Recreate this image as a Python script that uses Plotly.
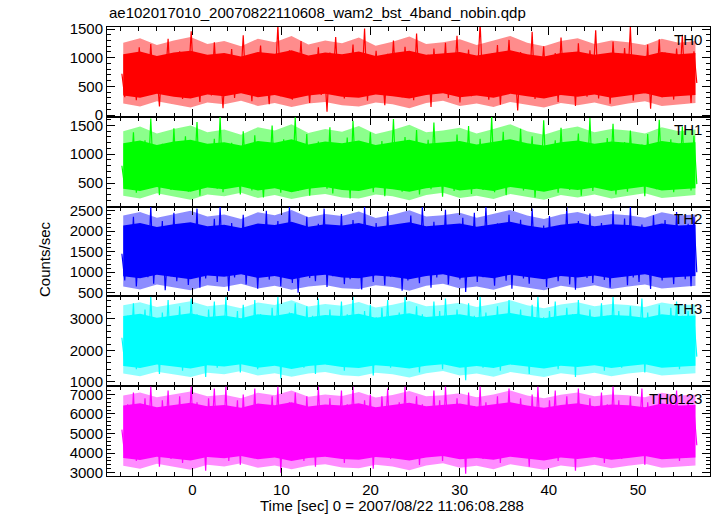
import numpy as np
import plotly.graph_objects as go
from plotly.subplots import make_subplots

# ---- data ----
t_start, t_end = -7.9, 56.6
band_names = ["TH0", "TH1", "TH2", "TH3", "TH0123"]
colors = ["#ff0000", "#00ff00", "#0000ff", "#00ffff", "#ff00ff"]
fringe_colors = ["rgba(255,0,0,0.45)", "rgba(0,255,0,0.45)", "rgba(0,0,255,0.45)",
                 "rgba(0,255,255,0.45)", "rgba(255,0,255,0.45)"]

th0 = [720,310,1050,420,890,260,1180,540,960,380,
       1240,470,820,150,1010,590,1330,360,870,500,
       1110,280,940,610,1460,400,780,230,1060,520,
       910,340,1270,450,830,120,990,560,1150,300,
       880,480,1390,370,950,240,1080,600,1210,420,
       760,190,1020,510,1570,330,900,460,1130,270,
       970,580,1290,390,840,210,1040,490,1180,350,
       920,60,1090,530,1360,410,800,290,1000,570,
       1230,320,870,440,1510,250,960,550,1120,380,
       850,170,1070,500,1300,430,930,310,1190,590,
       980,260,1420,460,860,350,1050,140,1160,520,
       790,400,1260,300,1010,560,1380,220,900,480,
       1140,330,950,610,1600,370,820,270,1070,450,
       1220,180,990,540,1310,410,880,80,1100,500,
       940,360,1450,280,860,580,1200,340,970,430,
       1080,230,1350,510,810,390,1030,160,1250,470,
       920,320,1130,560,1480,290,890,420,1060,200,
       1280,530,960,350,1170,450,1540,250,870,600,
       1000,380,1230,110,940,490,1320,310,1090,440,
       830,270,1160,520,1400,360,980,210,1110,560]
th1 = [800,420,1150,500,1380,330,950,560,1240,410,
       1620,470,1020,290,1180,540,870,380,1450,450,
       1060,600,1310,350,920,510,1560,280,1110,430,
       980,570,1270,400,1650,340,1040,520,1200,460,
       890,300,1400,580,1080,370,1330,490,960,250,
       1190,550,1500,420,1010,330,1260,600,930,440,
       1640,360,1120,510,1350,280,990,470,1220,560,
       870,400,1470,320,1150,540,1030,450,1290,230,
       1580,500,940,380,1170,590,1380,340,1070,460,
       1230,270,1000,530,1610,410,1140,350,1300,570,
       910,480,1420,300,1090,520,1250,390,1550,440,
       1020,260,1180,600,950,360,1340,490,1130,420,
       1490,310,1060,550,1270,380,980,470,1650,340,
       1200,510,1390,290,1050,580,1160,430,1440,370,
       920,530,1310,250,1100,460,1590,400,1010,560,
       1240,330,1460,490,960,380,1190,600,1360,280,
       1080,450,1630,360,1140,520,970,410,1280,570,
       1530,300,1040,480,1210,350,1410,540,990,430,
       1170,270,1350,500,1060,390,1600,460,1120,580,
       1260,340,1000,520,1480,410,1150,370,1320,480]
th2 = [1450,800,2000,950,2350,650,1750,1050,2150,880,
       2600,720,1850,1000,2250,560,1650,900,2450,780,
       1950,1080,2100,690,1800,960,2550,620,2050,850,
       1700,1020,2300,760,2600,930,1900,540,2200,870,
       1600,1060,2400,700,2000,990,2150,600,1780,910,
       2500,820,1880,1040,2250,660,1960,950,2600,740,
       2080,500,1820,1010,2350,860,1700,780,2180,980,
       2550,640,1930,900,2050,1070,2420,710,1860,830,
       2270,970,1750,580,2600,920,2000,760,2200,1030,
       1830,680,2480,890,1980,1000,2150,550,1900,800,
       2380,940,1720,730,2600,1060,2060,620,2230,870,
       1950,980,2520,700,1840,910,2120,820,2330,520,
       1770,1040,2450,760,2000,880,2600,950,1890,670,
       2190,1010,1730,790,2400,600,2070,930,2280,850,
       1920,720,2550,1050,1810,960,2140,640,2370,890,
       2010,780,1690,1000,2600,700,1970,570,2250,940,
       1850,860,2430,740,2090,1070,2200,810,1780,620,
       2500,920,1940,990,2310,680,2600,870,1880,760,
       2160,1030,1760,590,2390,900,2040,800,2270,970,
       1910,710,2470,940,1990,830,2180,660,2350,1000]
th3 = [2400,1600,3100,1800,3500,1400,2900,1900,3300,1550,
       3700,1750,2800,1250,3200,1850,3600,1500,3000,1700,
       3400,1350,2950,1950,3650,1600,3150,1800,2850,1150,
       3300,1900,3550,1450,3050,1700,3700,1550,2900,1850,
       3250,1300,3450,1750,3000,1650,3600,1400,3150,1950,
       2800,1500,3350,1800,3700,1100,3050,1700,3200,1600,
       3500,1900,2900,1450,3400,1750,3100,1250,3650,1850,
       3000,1550,3300,1650,2850,1950,3550,1350,3150,1800,
       3700,1500,2950,1700,3250,1900,3450,1200,3050,1600,
       3350,1850,3600,1450,2900,1750,3200,1550,3700,1650,
       3000,1950,3400,1300,3150,1800,2800,1600,3550,1700,
       3250,1400,3650,1900,3050,1500,3300,1750,2950,1050,
       3500,1850,3100,1600,3700,1450,3200,1950,2900,1650,
       3400,1350,3000,1800,3600,1550,3150,1700,3300,1900,
       2850,1250,3450,1600,3700,1750,3050,1500,3250,1850,
       3550,1400,2950,1950,3350,1650,3150,1150,3600,1800,
       3000,1550,3300,1700,2900,1900,3500,1350,3100,1600,
       3700,1800,3250,1450,2850,1750,3400,1650,3050,1950,
       3650,1300,3200,1850,3000,1550,3450,1700,2950,1600,
       3350,1900,3550,1400,3100,1750,3250,1650,3000,1800]
th0123 = [5200,3900,6500,4200,7100,3600,6200,4500,6800,3800,
          7400,4300,6000,3300,6700,4600,7200,3700,6400,4100,
          6900,3500,6100,4700,7400,4000,6600,4400,6000,3100,
          6800,4600,7300,3800,6300,4200,7400,3600,6100,4500,
          6700,3400,7000,4300,6200,4100,7300,3700,6500,4700,
          5900,3900,6900,4400,7400,3000,6400,4200,6600,4000,
          7100,4600,6100,3600,6900,4300,6400,3300,7400,4500,
          6200,3800,6800,4100,6000,4700,7200,3500,6500,4400,
          7400,3900,6100,4200,6700,4600,7000,3200,6300,4000,
          6900,4500,7300,3700,6000,4300,6600,3900,7400,4100,
          6200,4700,6900,3400,6500,4400,5900,4000,7200,4200,
          6700,3600,7400,4600,6300,3800,6800,4300,6100,2950,
          7100,4500,6400,4000,7400,3700,6600,4700,6000,4100,
          6900,3500,6200,4400,7300,3900,6500,4200,6800,4600,
          5900,3300,7000,4000,7400,4300,6300,3800,6700,4500,
          7200,3600,6100,4700,6900,4100,6400,3100,7300,4400,
          6200,3900,6800,4200,6000,4600,7100,3500,6500,4000,
          7400,4400,6700,3700,5900,4300,6900,4100,6300,4700,
          7300,3400,6600,4500,6200,3900,7000,4200,6100,4000,
          6800,4600,7200,3600,6400,4300,6700,4100,6200,4400]

core_lo0 = [340,300,370,320,290,360,330,380,310,350,280,340,370,320,300,360,330,290,350,380,310,340,300,370,330,290,350,320,360,300,340,380,310,330,350]
core_hi0 = [1060,1110,1030,1090,1120,1050,1080,1020,1100,1070,1130,1040,1090,1060,1110,1030,1080,1120,1050,1070,1100,1040,1090,1130,1060,1020,1080,1110,1050,1090,1070,1030,1100,1060,1080]
core_lo1 = [400,360,430,380,350,420,390,440,370,410,340,400,430,380,360,420,390,350,410,440,370,400,360,430,390,350,410,380,420,360,400,440,370,390,410]
core_hi1 = [1190,1240,1160,1220,1250,1180,1210,1150,1230,1200,1260,1170,1220,1190,1240,1160,1210,1250,1180,1200,1230,1170,1220,1260,1190,1150,1210,1240,1180,1220,1200,1160,1230,1190,1210]
core_lo2 = [900,850,940,880,830,920,890,950,860,910,820,900,940,870,850,920,890,830,910,950,860,900,850,940,880,830,910,870,920,850,900,950,860,880,910]
core_hi2 = [2140,2200,2100,2170,2220,2120,2160,2080,2190,2150,2230,2110,2170,2140,2200,2100,2160,2220,2120,2150,2190,2110,2170,2230,2140,2080,2160,2200,2120,2170,2150,2100,2190,2140,2160]
core_lo3 = [1500,1440,1550,1480,1420,1530,1490,1560,1450,1510,1410,1500,1550,1470,1440,1530,1490,1420,1510,1560,1450,1500,1440,1550,1480,1420,1510,1470,1530,1440,1500,1560,1450,1480,1510]
core_hi3 = [3090,3160,3040,3120,3180,3060,3110,3020,3150,3100,3190,3050,3120,3090,3160,3040,3110,3180,3060,3100,3150,3050,3120,3190,3090,3020,3110,3160,3060,3120,3100,3040,3150,3090,3110]
core_lo4 = [3750,3650,3820,3720,3620,3800,3740,3850,3680,3770,3600,3750,3820,3700,3660,3800,3740,3620,3770,3850,3680,3750,3660,3820,3720,3620,3770,3700,3800,3660,3750,3850,3680,3720,3770]
core_hi4 = [6430,6550,6350,6480,6580,6400,6460,6320,6530,6450,6600,6380,6480,6430,6550,6350,6460,6580,6400,6450,6530,6380,6480,6600,6430,6320,6460,6550,6400,6480,6450,6350,6530,6430,6460]

outer_lo0 = [200,150,240,180,130,220,190,250,160,210,140,200,230,170,150,220,190,120,210,250,160,200,140,230,180,130,210,170,220,150,200,240,160,190,210]
outer_hi0 = [1260,1340,1220,1300,1360,1240,1290,1200,1330,1270,1380,1230,1300,1250,1350,1210,1280,1370,1240,1270,1320,1220,1300,1380,1260,1200,1290,1340,1240,1300,1270,1220,1330,1260,1290]
outer_lo1 = [280,230,320,260,210,300,270,330,240,290,220,280,310,250,230,300,270,200,290,330,240,280,220,310,260,210,290,250,300,230,280,320,240,270,290]
outer_hi1 = [1400,1480,1360,1440,1500,1380,1430,1340,1470,1410,1520,1370,1440,1390,1490,1350,1420,1510,1380,1410,1460,1360,1440,1520,1400,1340,1430,1480,1380,1440,1410,1360,1470,1400,1430]
outer_lo2 = [650,580,700,630,560,680,640,720,600,670,570,650,690,610,590,680,640,550,670,720,600,650,570,690,630,560,670,610,680,590,650,700,600,640,670]
outer_hi2 = [2380,2470,2330,2420,2500,2360,2410,2300,2460,2390,2520,2340,2420,2370,2480,2320,2400,2510,2360,2390,2450,2330,2420,2520,2380,2300,2410,2470,2360,2420,2390,2330,2460,2380,2410]
outer_lo3 = [1260,1180,1320,1230,1150,1290,1240,1340,1200,1270,1160,1260,1310,1210,1180,1290,1240,1140,1270,1340,1200,1260,1160,1310,1230,1150,1270,1210,1290,1180,1260,1320,1200,1240,1270]
outer_hi3 = [3430,3530,3380,3470,3560,3400,3460,3340,3520,3440,3590,3390,3470,3420,3540,3360,3450,3570,3400,3440,3510,3380,3470,3590,3430,3340,3460,3530,3400,3470,3440,3380,3520,3430,3460]
outer_lo4 = [3350,3200,3450,3300,3150,3400,3320,3480,3250,3370,3180,3350,3430,3270,3220,3400,3320,3120,3370,3480,3250,3350,3180,3430,3300,3150,3370,3270,3400,3220,3350,3450,3250,3300,3370]
outer_hi4 = [6950,7100,6850,7000,7150,6900,6980,6800,7080,6960,7200,6880,7000,6920,7120,6840,6970,7180,6900,6960,7060,6860,7000,7200,6950,6800,6980,7100,6900,7000,6960,6860,7080,6950,6980]

series = [th0, th1, th2, th3, th0123]
core_lo = [core_lo0, core_lo1, core_lo2, core_lo3, core_lo4]
core_hi = [core_hi0, core_hi1, core_hi2, core_hi3, core_hi4]
outer_lo = [outer_lo0, outer_lo1, outer_lo2, outer_lo3, outer_lo4]
outer_hi = [outer_hi0, outer_hi1, outer_hi2, outer_hi3, outer_hi4]
y_ranges = [[-30, 1535], [90, 1650], [410, 2600], [860, 3715], [2830, 7420]]
y_dticks = [500, 500, 500, 1000, 1000]
y_minor = [100, 100, 100, 200, 200]
x_range = [-9.57, 58.08]

FONT = "Liberation Sans, Arial, Helvetica, sans-serif"

fig = make_subplots(rows=5, cols=1, shared_xaxes=True, vertical_spacing=0)


def band(lo, hi, color, row, x):
    fig.add_trace(go.Scatter(x=x, y=lo, mode="lines", line=dict(width=0, color=color),
                             showlegend=False, hoverinfo="skip"), row=row, col=1)
    fig.add_trace(go.Scatter(x=x, y=hi, mode="lines", line=dict(width=0, color=color),
                             fill="tonexty", fillcolor=color, showlegend=False, hoverinfo="skip"),
                  row=row, col=1)


for i in range(5):
    y = series[i]
    t = np.linspace(t_start, t_end, len(y))
    tc = np.linspace(t_start + 0.15, t_end - 0.15, len(core_lo[i]))
    band(outer_lo[i], outer_hi[i], fringe_colors[i], i + 1, tc)
    band(core_lo[i], core_hi[i], colors[i], i + 1, tc)
    fig.add_trace(go.Scatter(x=t, y=y, mode="lines", line=dict(width=1.2, color=colors[i]),
                             showlegend=False), row=i + 1, col=1)
    fig.update_yaxes(range=y_ranges[i], dtick=y_dticks[i], tick0=0, row=i + 1, col=1,
                     minor=dict(dtick=y_minor[i], ticks="inside", ticklen=4, tickcolor="black"),
                     ticks="inside", ticklen=8, tickcolor="black",
                     showline=True, linecolor="black", linewidth=1, mirror="allticks",
                     showgrid=False, zeroline=False,
                     tickfont=dict(family=FONT, size=15, color="black"))
    fig.update_xaxes(range=x_range, dtick=10, tick0=0, row=i + 1, col=1,
                     minor=dict(dtick=2, ticks="inside", ticklen=4, tickcolor="black"),
                     ticks="inside", ticklen=8, tickcolor="black",
                     showline=True, linecolor="black", linewidth=1, mirror="allticks",
                     showgrid=False, zeroline=False,
                     tickfont=dict(family=FONT, size=15, color="black"))
    fig.add_annotation(text=band_names[i], xref="x domain" if i == 0 else f"x{i+1} domain",
                       yref="y domain" if i == 0 else f"y{i+1} domain",
                       x=0.99, y=0.98, xanchor="right", yanchor="top", showarrow=False,
                       font=dict(family=FONT, size=15, color="black"))

fig.add_annotation(text="ae102017010_20070822110608_wam2_bst_4band_nobin.qdp", xref="paper", yref="paper",
                   x=0, y=1.033, xanchor="left", yanchor="middle", showarrow=False,
                   font=dict(family=FONT, size=15, color="black"))
fig.add_annotation(text="Time [sec] 0 = 2007/08/22 11:06:08.288", xref="paper", yref="paper",
                   x=0.4726, y=-0.0668, xanchor="center", yanchor="middle", showarrow=False,
                   font=dict(family=FONT, size=15, color="black"))
fig.add_annotation(text="Counts/sec", xref="paper", yref="paper", textangle=-90,
                   x=-0.1028, y=0.4833, xanchor="center", yanchor="middle", showarrow=False,
                   font=dict(family=FONT, size=15, color="black"))

fig.update_layout(width=717, height=516, margin=dict(l=107, r=7, t=27, b=40),
                  paper_bgcolor="white", plot_bgcolor="white", showlegend=False)

fig.write_html("out.html", config={"displayModeBar": False},
               post_script="document.body.style.margin='0px';document.body.style.overflow='hidden';")
